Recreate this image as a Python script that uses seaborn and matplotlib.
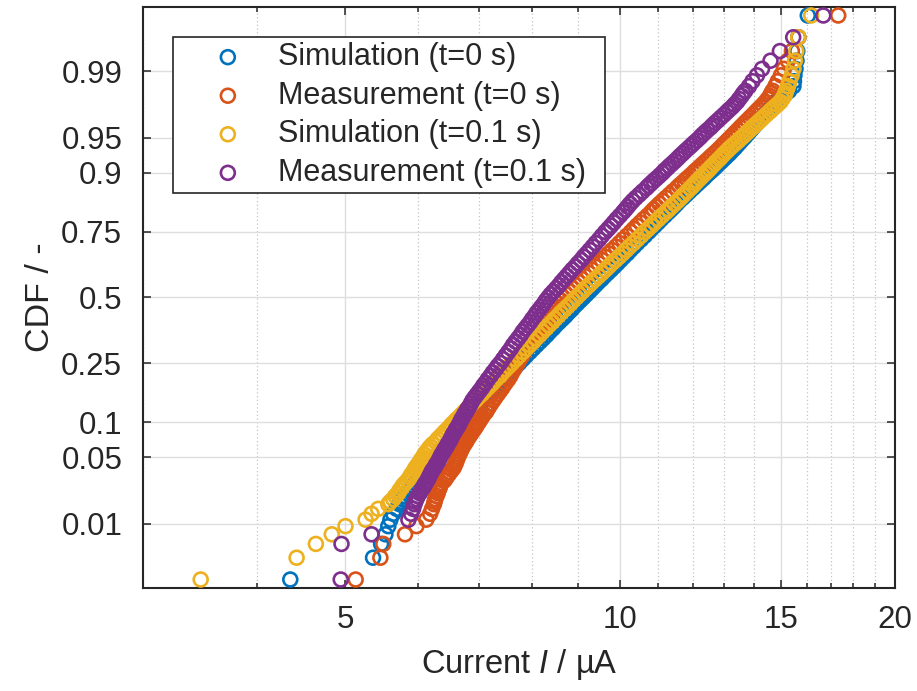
import numpy as np
import pandas as pd
import matplotlib
matplotlib.use("Agg")
import matplotlib.pyplot as plt
import seaborn as sns
from statistics import NormalDist
from matplotlib.ticker import FixedLocator, FixedFormatter, NullFormatter, NullLocator

# ---------------- data ----------------
cdf_levels = [0.00185, 0.0037, 0.0056, 0.0074, 0.0093, 0.0111, 0.013, 0.0148, 0.0167,
              0.0178, 0.019, 0.0205, 0.022, 0.0235, 0.025, 0.0265, 0.028, 0.030, 0.032,
              0.034, 0.036, 0.038, 0.04, 0.0425, 0.045, 0.0475, 0.05,
              0.053, 0.056, 0.059, 0.062, 0.0655, 0.069, 0.0725, 0.076, 0.08, 0.084,
              0.088, 0.092, 0.096, 0.1,
              0.105, 0.11, 0.115, 0.12, 0.125, 0.13, 0.1375, 0.145, 0.1525, 0.16,
              0.1675, 0.175, 0.1825, 0.19, 0.2, 0.21, 0.22, 0.23, 0.24, 0.25,
              0.2625, 0.275, 0.2875, 0.3, 0.3125, 0.325, 0.3375, 0.35, 0.3625, 0.375,
              0.3875, 0.4, 0.4125, 0.425, 0.4375, 0.45, 0.4625, 0.475, 0.4875,
              0.5,
              0.5125, 0.525, 0.5375, 0.55, 0.5625, 0.575, 0.5875, 0.6, 0.6125, 0.625,
              0.6375, 0.65, 0.6625, 0.675, 0.6875, 0.7, 0.7125, 0.725, 0.7375, 0.75,
              0.76, 0.77, 0.78, 0.79, 0.8, 0.81, 0.8175, 0.825, 0.8325, 0.84,
              0.8475, 0.855, 0.8625, 0.87, 0.875, 0.88, 0.885, 0.89, 0.895, 0.9,
              0.904, 0.908, 0.912, 0.916, 0.92, 0.924, 0.9275, 0.931, 0.9345, 0.938,
              0.941, 0.944, 0.947, 0.95, 0.9525, 0.955, 0.9575, 0.96, 0.962, 0.964,
              0.966, 0.968, 0.970, 0.972, 0.9735, 0.975, 0.9765, 0.978, 0.9795, 0.981,
              0.9822, 0.9833, 0.9852, 0.987, 0.9889, 0.9907, 0.9926, 0.9944, 0.9963, 0.99815]

sim_t0 = [4.35, 5.36, 5.47, 5.53, 5.57, 5.60, 5.64, 5.69, 5.73,
          5.75, 5.77, 5.80, 5.84, 5.87, 5.90, 5.93, 5.96, 6.00, 6.03,
          6.07, 6.11, 6.14, 6.17, 6.21, 6.25, 6.28, 6.32,
          6.36, 6.40, 6.43, 6.47, 6.50, 6.54, 6.57, 6.60, 6.63, 6.66,
          6.70, 6.73, 6.75, 6.78,
          6.81, 6.85, 6.88, 6.92, 6.95, 6.98, 7.02, 7.07, 7.12, 7.17,
          7.22, 7.28, 7.33, 7.38, 7.44, 7.51, 7.57, 7.63, 7.69, 7.75,
          7.82, 7.89, 7.96, 8.03, 8.10, 8.17, 8.24, 8.31, 8.37, 8.44,
          8.50, 8.57, 8.64, 8.71, 8.77, 8.84, 8.90, 8.97, 9.04,
          9.11,
          9.18, 9.25, 9.32, 9.39, 9.46, 9.54, 9.61, 9.69, 9.77, 9.85,
          9.93, 10.01, 10.09, 10.18, 10.26, 10.35, 10.44, 10.54, 10.64, 10.74,
          10.82, 10.91, 11.00, 11.09, 11.19, 11.29, 11.37, 11.45, 11.53, 11.61,
          11.71, 11.81, 11.91, 12.02, 12.09, 12.17, 12.25, 12.34, 12.42, 12.51,
          12.59, 12.67, 12.75, 12.83, 12.92, 13.01, 13.09, 13.18, 13.26, 13.35,
          13.42, 13.50, 13.58, 13.67, 13.74, 13.82, 13.90, 13.98, 14.05, 14.13,
          14.21, 14.30, 14.39, 14.48, 14.56, 14.64, 14.72, 14.81, 14.94, 15.07,
          15.19, 15.31, 15.48, 15.50, 15.52, 15.56, 15.60, 15.63, 15.67, 16.05]

meas_t0 = [5.13, 5.46, 5.50, 5.81, 5.98, 6.13, 6.19, 6.22, 6.25,
           6.26, 6.27, 6.29, 6.31, 6.32, 6.34, 6.35, 6.37, 6.42, 6.45,
           6.48, 6.51, 6.54, 6.57, 6.59, 6.61, 6.62, 6.64,
           6.66, 6.68, 6.70, 6.72, 6.75, 6.78, 6.80, 6.83, 6.86, 6.89,
           6.92, 6.95, 6.97, 7.00,
           7.03, 7.06, 7.09, 7.13, 7.15, 7.18, 7.22, 7.26, 7.30, 7.34,
           7.38, 7.42, 7.45, 7.49, 7.54, 7.58, 7.61, 7.65, 7.68, 7.72,
           7.76, 7.81, 7.85, 7.89, 7.93, 7.98, 8.03, 8.09, 8.13, 8.18,
           8.23, 8.28, 8.32, 8.37, 8.42, 8.47, 8.51, 8.56, 8.61,
           8.66,
           8.73, 8.80, 8.87, 8.94, 9.01, 9.08, 9.15, 9.23, 9.31, 9.39,
           9.47, 9.55, 9.63, 9.71, 9.80, 9.89, 9.98, 10.07, 10.17, 10.27,
           10.35, 10.43, 10.52, 10.61, 10.71, 10.81, 10.88, 10.96, 11.04, 11.13,
           11.22, 11.32, 11.42, 11.53, 11.60, 11.68, 11.76, 11.84, 11.93, 12.02,
           12.09, 12.17, 12.25, 12.33, 12.42, 12.51, 12.59, 12.68, 12.77, 12.86,
           12.94, 13.02, 13.11, 13.20, 13.28, 13.36, 13.45, 13.54, 13.62, 13.70,
           13.79, 13.88, 13.98, 14.08, 14.16, 14.25, 14.34, 14.43, 14.51, 14.59,
           14.64, 14.69, 14.79, 14.88, 15.00, 15.11, 15.26, 15.42, 15.67, 17.33]

sim_t01 = [3.47, 4.42, 4.64, 4.83, 5.00, 5.26, 5.34, 5.43, 5.57,
           5.60, 5.64, 5.67, 5.71, 5.73, 5.76, 5.78, 5.81, 5.85, 5.88,
           5.90, 5.93, 5.95, 5.97, 6.00, 6.03, 6.05, 6.08,
           6.10, 6.13, 6.16, 6.19, 6.23, 6.28, 6.31, 6.35, 6.39, 6.43,
           6.47, 6.51, 6.54, 6.58,
           6.62, 6.67, 6.71, 6.75, 6.79, 6.83, 6.88, 6.94, 6.99, 7.05,
           7.10, 7.15, 7.20, 7.25, 7.31, 7.38, 7.43, 7.49, 7.55, 7.61,
           7.68, 7.75, 7.82, 7.89, 7.96, 8.03, 8.09, 8.16, 8.22, 8.29,
           8.35, 8.42, 8.48, 8.55, 8.61, 8.68, 8.75, 8.82, 8.88,
           8.95,
           9.02, 9.09, 9.16, 9.24, 9.31, 9.39, 9.47, 9.55, 9.63, 9.71,
           9.79, 9.88, 9.97, 10.06, 10.15, 10.24, 10.34, 10.44, 10.54, 10.64,
           10.73, 10.82, 10.91, 11.01, 11.11, 11.22, 11.30, 11.38, 11.47, 11.56,
           11.65, 11.74, 11.84, 11.94, 12.01, 12.08, 12.15, 12.23, 12.31, 12.40,
           12.47, 12.54, 12.61, 12.69, 12.77, 12.86, 12.93, 13.01, 13.10, 13.19,
           13.28, 13.38, 13.48, 13.58, 13.67, 13.76, 13.86, 13.96, 14.05, 14.14,
           14.24, 14.34, 14.45, 14.57, 14.66, 14.76, 14.87, 14.98, 15.05, 15.13,
           15.16, 15.20, 15.27, 15.33, 15.41, 15.48, 15.54, 15.59, 15.67, 16.19]

meas_t01 = [4.94, np.nan, 4.95, 5.34, np.nan, 5.86, 5.90, 5.93, 5.95,
            5.96, 5.98, 6.00, 6.03, 6.05, 6.08, 6.10, 6.12, 6.15, 6.17,
            6.19, 6.21, 6.23, 6.26, 6.28, 6.31, 6.33, 6.35,
            6.37, 6.40, 6.42, 6.45, 6.47, 6.50, 6.52, 6.54, 6.56, 6.59,
            6.61, 6.64, 6.66, 6.68,
            6.70, 6.73, 6.75, 6.78, 6.80, 6.83, 6.86, 6.89, 6.93, 6.97,
            7.01, 7.05, 7.08, 7.12, 7.16, 7.21, 7.25, 7.30, 7.34, 7.39,
            7.44, 7.49, 7.54, 7.59, 7.63, 7.68, 7.73, 7.78, 7.82, 7.87,
            7.92, 7.97, 8.01, 8.06, 8.10, 8.15, 8.20, 8.25, 8.29,
            8.34,
            8.39, 8.45, 8.51, 8.57, 8.62, 8.68, 8.74, 8.80, 8.86, 8.93,
            8.99, 9.06, 9.12, 9.19, 9.26, 9.33, 9.40, 9.48, 9.55, 9.63,
            9.70, 9.77, 9.84, 9.91, 9.99, 10.07, 10.13, 10.19, 10.25, 10.32,
            10.40, 10.49, 10.58, 10.68, 10.74, 10.81, 10.88, 10.96, 11.04, 11.12,
            11.18, 11.25, 11.32, 11.40, 11.48, 11.56, 11.63, 11.71, 11.79, 11.88,
            11.96, 12.04, 12.13, 12.22, 12.29, 12.37, 12.46, 12.56, 12.63, 12.71,
            12.80, 12.89, 12.99, 13.09, 13.17, 13.26, 13.34, 13.43, 13.50, 13.58,
            13.64, 13.71, 13.84, 13.96, 14.12, 14.30, 14.61, 14.96, 15.47, 16.69]

series_names = ["Simulation (t=0 s)", "Measurement (t=0 s)",
                "Simulation (t=0.1 s)", "Measurement (t=0.1 s)"]
series_values = [sim_t0, meas_t0, sim_t01, meas_t01]
colors = ["#0072BD", "#D95319", "#EDB120", "#7E2F8E"]

x_ticks = [5, 10, 15, 20]
x_tick_labels = ["5", "10", "15", "20"]
x_minor = [3, 4, 6, 7, 8, 9, 11, 12, 13, 14, 16, 17, 18, 19]
y_ticks = [0.01, 0.05, 0.1, 0.25, 0.5, 0.75, 0.9, 0.95, 0.99]
y_tick_labels = ["0.01", "0.05", "0.1", "0.25", "0.5", "0.75", "0.9", "0.95", "0.99"]

# ---------------- normal-probability scale ----------------
_nd = NormalDist()
_ppf = np.vectorize(_nd.inv_cdf, otypes=[float])
_cdf = np.vectorize(_nd.cdf, otypes=[float])


def prob_fwd(p):
    p = np.clip(np.asarray(p, dtype=float), 1e-12, 1 - 1e-12)
    return _ppf(p)


def prob_inv(z):
    return _cdf(np.asarray(z, dtype=float))


sns.set_style("ticks")
plt.rcParams["font.family"] = ["Liberation Sans", "DejaVu Sans"]
plt.rcParams["mathtext.fontset"] = "custom"
plt.rcParams["mathtext.rm"] = "Liberation Sans"
plt.rcParams["mathtext.it"] = "Liberation Sans:italic"

W, H = 917, 691
fig = plt.figure(figsize=(W / 100, H / 100), dpi=100)
fig.patch.set_facecolor("white")
ax = fig.add_axes([143 / W, 1 - 588 / H, (895 - 143) / W, (588 - 7) / H])

ax.set_xscale("log")
ax.set_yscale("function", functions=(prob_fwd, prob_inv))

for name, vals, col in zip(series_names, series_values, colors):
    df = pd.DataFrame({"current": vals, "cdf": cdf_levels})
    sns.scatterplot(data=df, x="current", y="cdf", ax=ax, marker="o", s=100,
                    facecolor="none", edgecolor=col, linewidth=1.9,
                    label=name, zorder=3)

ax.set_xlim(3, 20)
ax.set_ylim(float(prob_inv(-2.99)), float(prob_inv(2.99)))

ax.xaxis.set_major_locator(FixedLocator(x_ticks))
ax.xaxis.set_major_formatter(FixedFormatter(x_tick_labels))
ax.xaxis.set_minor_locator(FixedLocator(x_minor))
ax.xaxis.set_minor_formatter(NullFormatter())
ax.yaxis.set_major_locator(FixedLocator(y_ticks))
ax.yaxis.set_major_formatter(FixedFormatter(y_tick_labels))
ax.yaxis.set_minor_locator(NullLocator())

ax.set_axisbelow(True)
ax.grid(True, which="major", color="#dedede", linewidth=1.0, linestyle="-")
ax.grid(True, which="minor", axis="x", color="#c4c4c4", linewidth=0.9, linestyle=(0, (1, 2)))

for sp in ax.spines.values():
    sp.set_linewidth(1.5)
    sp.set_color("#262626")

ax.tick_params(which="both", direction="in", top=True, right=True, colors="#262626",
               labelcolor="#262626", labelsize=22.5, width=1.1)
ax.tick_params(which="major", length=6)
ax.tick_params(which="minor", length=3.6)
ax.tick_params(axis="x", which="major", pad=12)
ax.tick_params(axis="y", which="major", pad=15)

ax.set_xlabel("Current $I$ / µA", fontsize=23.5, color="#262626", labelpad=9)
ax.set_ylabel("CDF / -", fontsize=24.5, color="#262626", labelpad=4)

leg = ax.legend(loc="upper left",
                bbox_to_anchor=((173 - 143) / 752, 0.6799, (605 - 173) / 752, 0.2685),
                mode="expand", frameon=True, fancybox=False,
                edgecolor="#262626", framealpha=1.0, fontsize=22, handletextpad=0.0,
                borderpad=0.17, labelspacing=0.28, borderaxespad=0.0, handlelength=3.25)
leg.get_frame().set_linewidth(1.2)
for t in leg.get_texts():
    t.set_color("#262626")

fig.savefig("out.png", dpi=100)
